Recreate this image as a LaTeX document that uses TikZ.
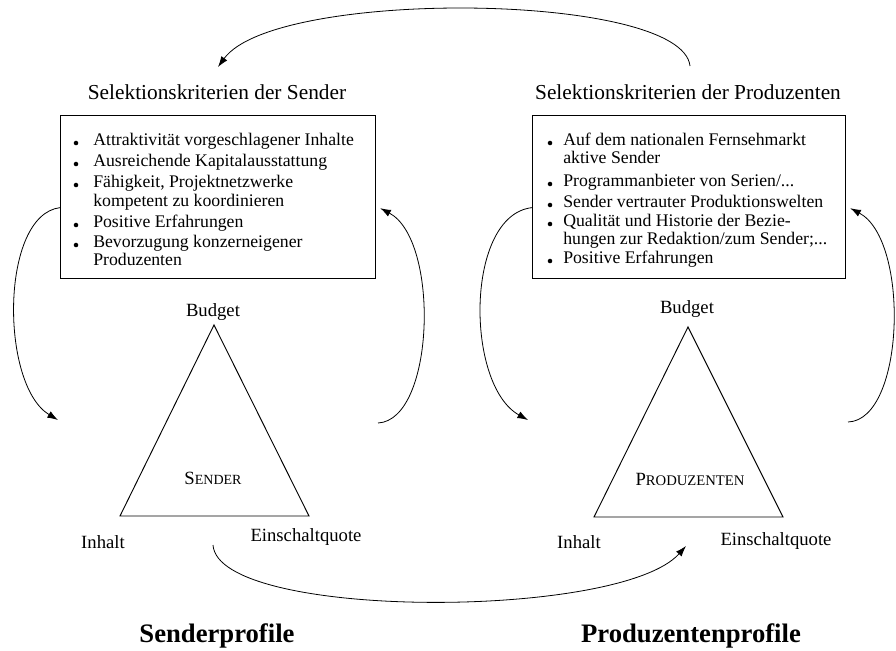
\documentclass[tikz,border=0pt]{standalone}
\usepackage{fontspec}
\setmainfont{Liberation Serif}
\usetikzlibrary{arrows.meta}
\begin{document}
\begin{tikzpicture}[x=0.75pt,y=-0.75pt,
  conn/.style={line width=0.6pt},
  arr/.style={conn,-{Latex[length=8pt,width=5.5pt]}},
  boxst/.style={draw,line width=0.9pt,inner sep=0,anchor=north west},
  titlest/.style={font=\fontsize{16}{18}\selectfont},
  itemst/.style={anchor=base west,inner sep=0,font=\fontsize{13.3}{15}\selectfont},
  lbl/.style={font=\fontsize{14}{16}\selectfont},
  boldlbl/.style={font=\fontsize{20}{24}\selectfont\bfseries},
  tri/.style={line width=0.7pt}]
\useasboundingbox (0,0) rectangle (896,650);

% titles
\node[titlest] (ltitle) at (217,92) {Selektionskriterien der Sender};
\node[titlest] (rtitle) at (688,92) {Selektionskriterien der Produzenten};

% boxes
\node[boxst, minimum width=236.25pt, minimum height=122.25pt] (lbox) at (60,115) {};
\node[boxst, minimum width=234.75pt, minimum height=122.25pt] (rbox) at (532,115) {};

% left box items
\node[itemst] (l1) at (93,145) {Attraktivität vorgeschlagener Inhalte};
\node[itemst] (l2) at (93,166) {Ausreichende Kapitalausstattung};
\node[itemst] (l3) at (93,187) {Fähigkeit, Projektnetzwerke};
\node[itemst] (l4) at (93,206) {kompetent zu koordinieren};
\node[itemst] (l5) at (93,227) {Positive Erfahrungen};
\node[itemst] (l6) at (93,247) {Bevorzugung konzerneigener};
\node[itemst] (l7) at (93,265) {Produzenten};
\foreach \yy in {143,164,185,225,245} \fill (76,\yy) circle (1.7pt);

% right box items
\node[itemst] (r1) at (563,145) {Auf dem nationalen Fernsehmarkt};
\node[itemst] (r2) at (563,163) {aktive Sender};
\node[itemst] (r3) at (563,186) {Programmanbieter von Serien/...};
\node[itemst] (r4) at (563,207) {Sender vertrauter Produktionswelten};
\node[itemst] (r5) at (563,226) {Qualität und Historie der Bezie-};
\node[itemst] (r6) at (563,244) {hungen zur Redaktion/zum Sender;...};
\node[itemst] (r7) at (563,263) {Positive Erfahrungen};
\foreach \yy in {143,184,205,224,261} \fill (550,\yy) circle (1.7pt);

% triangles
\coordinate (lA) at (214,325); \coordinate (lB) at (120,516); \coordinate (lC) at (309,516);
\draw[tri] (lA) -- (lB) -- (lC) -- cycle;
\coordinate (rA) at (688,327); \coordinate (rB) at (594,517); \coordinate (rC) at (783,517);
\draw[tri] (rA) -- (rB) -- (rC) -- cycle;

% triangle labels
\node[lbl] (lbud) at (213,312) {Budget};
\node[lbl] (rbud) at (687,309) {Budget};
\node (lsend) at (213,478) {{\fontsize{14}{16}\selectfont S}{\fontsize{10.5}{12}\selectfont ENDER}};
\node (rprod) at (690,479) {{\fontsize{14}{16}\selectfont P}{\fontsize{11}{12}\selectfont RODUZENTEN}};
\node[lbl] (linh) at (103,542) {Inhalt};
\node[lbl] (lein) at (306,537) {Einschaltquote};
\node[lbl] (rinh) at (579,542) {Inhalt};
\node[lbl] (rein) at (776,541) {Einschaltquote};

% bottom labels
\node[boldlbl] (sprof) at (217,636) {Senderprofile};
\node[boldlbl] (pprof) at (691,636) {Produzentenprofile};

% connector end points
\coordinate (topR) at (690,66);
\coordinate (topL) at (218,67);
\coordinate (lcIn) at (58,420);
\coordinate (lcOut) at (378,423);
\coordinate (rcIn) at (528,420);
\coordinate (rcOut) at (848,422);
\coordinate (botS) at (213,545);
\coordinate (botE) at (686,546);

% top arc
\draw[arr] (topR) .. controls (682,-8) and (275,-12) .. (topL);
% left group loops
\draw[arr] ([yshift=-7.9pt]lbox.west) .. controls (0,215) and (0,385) .. (lcIn);
\draw[arr] (lcOut) .. controls (435,420) and (440,240) .. ([xshift=3pt,yshift=-8.3pt]lbox.east);
% right group loops
\draw[arr] ([yshift=-7.9pt]rbox.west) .. controls (465,215) and (465,385) .. (rcIn);
\draw[arr] (rcOut) .. controls (905,420) and (910,240) .. ([xshift=3pt,yshift=-8.3pt]rbox.east);
% bottom arc
\draw[arr] (botS) .. controls (218,620) and (620,620) .. (botE);
\end{tikzpicture}
\end{document}
